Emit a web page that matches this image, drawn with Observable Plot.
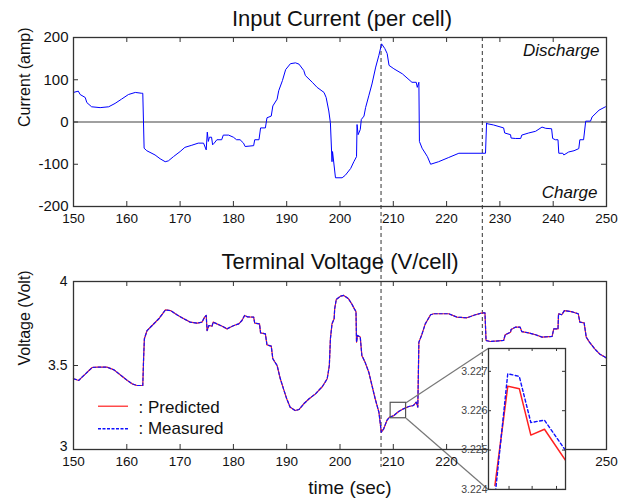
<!DOCTYPE html>
<html>
<head>
<meta charset="utf-8">
<script src="https://cdn.jsdelivr.net/npm/d3@7"></script>
<script src="https://cdn.jsdelivr.net/npm/@observablehq/plot@0.6"></script>
<style>
  html, body { margin: 0; padding: 0; background: #fff; }
  #fig { position: relative; width: 630px; height: 502px; background: #fff; overflow: hidden;
         font-family: "Liberation Sans", Arial, sans-serif; }
  #fig > svg, #fig > figure { position: absolute; margin: 0; }
</style>
</head>
<body>
<div id="fig"></div>
<script>
// ---------------- data ----------------
const currentTime = [150.0,150.9,151.25,152.2,152.5,153.4,155.0,156.6,157.8,159.0,160.3,161.6,162.8,163.0,163.25,163.75,165.3,166.25,167.2,167.8,168.75,170.0,170.9,172.2,173.4,174.4,174.9,175.1,175.3,175.5,175.9,176.1,176.4,176.9,177.8,178.1,179.1,180.0,180.6,181.25,181.9,182.2,183.8,184.0,184.8,185.1,186.0,186.3,187.1,187.4,188.2,188.5,189.2,189.8,190.7,191.65,192.3,193.2,193.5,194.8,195.7,197.0,197.4,197.9,198.2,198.5,198.6,199.15,200.4,201.0,202.0,202.6,203.1,203.2,203.4,203.8,204.0,204.5,204.8,205.4,206.0,206.7,207.3,207.8,208.4,208.85,209.2,210.1,211.7,213.5,214.3,214.5,214.8,214.9,215.4,216.4,217.0,218.5,220.4,222.3,224.2,227.3,227.5,227.6,228.8,230.7,230.9,232.0,232.1,232.9,233.9,234.1,235.4,236.7,237.9,238.6,239.7,239.9,240.4,240.9,241.05,241.8,242.0,242.9,243.9,244.8,245.0,245.7,246.1,247.0,247.3,248.6,249.8,250.0];
const currentAmp = [70,73,65,58,46,36,34,36,44,54,65,70,68,68,-62,-68,-78,-87,-94,-92,-82,-70,-60,-55,-50,-50,-66,-24,-46,-36,-36,-54,-50,-42,-42,-31,-31,-36,-42,-42,-50,-58,-56,-42,-42,-14,-14,10,14,38,54,74,98,124,138,140,137,122,110,94,82,70,58,26,-2,-94,-70,-132,-132,-126,-110,-94,-82,-6,-30,-18,6,14,34,62,90,130,158,185,174,162,134,126,114,94,94,82,94,-46,-62,-82,-100,-94,-84,-74,-74,-74,-2,-4,-7,-14,-26,-30,-38,-39,-39,-31,-26,-22,-12,-15,-16,-39,-42,-42,-74,-74,-78,-71,-68,-63,-42,-42,2,2,12,28,36,37];

const voltTime = [150.0,151.0,151.6,152.25,152.9,153.5,154.4,156.3,157.6,158.8,160.1,161.0,161.9,163.0,163.15,163.3,163.8,164.75,166.0,167.25,168.2,169.4,170.7,171.9,173.2,174.1,174.6,174.9,175.06,175.4,176.0,176.2,176.9,177.9,178.8,179.4,180.1,181.0,181.6,182.1,182.6,183.8,184.0,184.9,185.1,186.0,186.3,187.1,187.4,188.2,188.8,189.4,190.0,190.65,191.6,192.3,193.2,194.2,195.4,196.7,197.6,198.0,198.2,198.5,198.9,199.0,199.3,200.1,200.7,201.6,202.2,202.7,203.0,203.1,203.3,203.8,204.1,204.7,205.4,206.0,206.6,207.3,207.75,208.2,208.8,209.25,210.1,211.0,211.9,212.9,213.8,214.3,214.6,214.8,215.3,216.0,217.0,217.6,220.4,221.95,223.8,225.4,226.7,227.2,227.4,228.2,230.7,231.0,232.0,232.1,232.9,233.8,234.1,235.4,236.7,237.9,239.8,240.1,240.9,241.0,241.6,242.1,243.4,244.7,245.0,245.8,246.2,246.8,247.8,248.7,249.7,250.0];
const voltPredicted = [3.421,3.411,3.431,3.450,3.470,3.488,3.490,3.490,3.474,3.444,3.411,3.391,3.381,3.381,3.540,3.659,3.708,3.738,3.778,3.831,3.827,3.802,3.778,3.758,3.752,3.758,3.788,3.798,3.708,3.738,3.734,3.758,3.748,3.734,3.718,3.728,3.738,3.748,3.768,3.798,3.790,3.788,3.752,3.748,3.694,3.688,3.623,3.615,3.540,3.500,3.421,3.361,3.302,3.252,3.232,3.238,3.272,3.302,3.331,3.375,3.421,3.500,3.659,3.748,3.778,3.837,3.893,3.913,3.917,3.897,3.867,3.837,3.821,3.639,3.679,3.669,3.560,3.520,3.460,3.381,3.302,3.222,3.103,3.123,3.173,3.192,3.202,3.226,3.242,3.256,3.262,3.282,3.252,3.639,3.679,3.748,3.802,3.808,3.808,3.788,3.784,3.802,3.813,3.813,3.649,3.643,3.649,3.683,3.698,3.714,3.728,3.728,3.702,3.694,3.683,3.669,3.673,3.718,3.718,3.808,3.802,3.827,3.821,3.808,3.758,3.754,3.669,3.639,3.599,3.569,3.550,3.543];
// at full scale the measured trace is indistinguishable from the prediction
const voltMeasured = [3.421,3.411,3.431,3.450,3.470,3.488,3.490,3.490,3.474,3.444,3.411,3.391,3.381,3.381,3.540,3.659,3.708,3.738,3.778,3.831,3.827,3.802,3.778,3.758,3.752,3.758,3.788,3.798,3.708,3.738,3.734,3.758,3.748,3.734,3.718,3.728,3.738,3.748,3.768,3.798,3.790,3.788,3.752,3.748,3.694,3.688,3.623,3.615,3.540,3.500,3.421,3.361,3.302,3.252,3.232,3.238,3.272,3.302,3.331,3.375,3.421,3.500,3.659,3.748,3.778,3.837,3.893,3.913,3.917,3.897,3.867,3.837,3.821,3.639,3.679,3.669,3.560,3.520,3.460,3.381,3.302,3.222,3.103,3.123,3.173,3.192,3.202,3.226,3.242,3.256,3.262,3.282,3.252,3.639,3.679,3.748,3.802,3.808,3.808,3.788,3.784,3.802,3.813,3.813,3.649,3.643,3.649,3.683,3.698,3.714,3.728,3.728,3.702,3.694,3.683,3.669,3.673,3.718,3.718,3.808,3.802,3.827,3.821,3.808,3.758,3.754,3.669,3.639,3.599,3.569,3.550,3.543];

// zoomed detail (inset)
const insetTime = [211.05,211.15,211.24,211.33,211.436,211.6];
const insetPredicted = [3.2241,3.22662,3.22656,3.22538,3.22553,3.22474];
const insetMeasured = [3.2238,3.22694,3.22687,3.22570,3.22576,3.22499];

const eventTimes = [207.7, 226.7];
const xTicks = [150,160,170,180,190,200,210,220,230,240,250];
const currentTicks = [-200,-100,0,100,200];
const voltTicks = [3, 3.5, 4];
const insetYTicks = [3.224,3.225,3.226,3.227];
const insetXTicks = [211.16,211.34,211.53];
const zoomBox = {t0: 209.5, t1: 212.4, v0: 3.186, v1: 3.278};
const insetBox = {t0: 227.8, t1: 242.25, v0: 2.762, v1: 3.601};

const current = currentTime.map((t, i) => ({t, v: currentAmp[i]}));
const predicted = voltTime.map((t, i) => ({t, v: voltPredicted[i]}));
const measured = voltTime.map((t, i) => ({t, v: voltMeasured[i]}));
const insetP = insetTime.map((t, i) => ({t, v: insetPredicted[i]}));
const insetM = insetTime.map((t, i) => ({t, v: insetMeasured[i]}));

// ---------------- layout ----------------
const FONT = '"Liberation Sans", Arial, sans-serif';
const W = 630, ML = 73, MR = 24;
const fig = document.getElementById("fig");
const FRAME = "#333";
const TICK = 5;

function inwardTicks(xt, yt, fw, fh, len, stroke) {
  return [
    Plot.ruleX(xt, {insetTop: fh - len, stroke}),
    Plot.ruleX(xt, {insetBottom: fh - len, stroke}),
    Plot.ruleY(yt, {insetRight: fw - len, stroke}),
    Plot.ruleY(yt, {insetLeft: fw - len, stroke})
  ];
}
const fmt = d => String(d);

// ---- top panel: current ----
const H1 = 240, MT1 = 37, MB1 = 34;
const fh1 = H1 - MT1 - MB1, fw = W - ML - MR;
const topPlot = Plot.plot({
  width: W, height: H1, marginLeft: ML, marginRight: MR, marginTop: MT1, marginBottom: MB1,
  style: {fontFamily: FONT, fontSize: "14px", color: "#111", background: "transparent", overflow: "visible"},
  x: {domain: [150, 250], axis: null},
  y: {domain: [-200, 200], axis: null},
  marks: [
    Plot.ruleY([0], {stroke: "#808080", strokeWidth: 1.5}),
    Plot.ruleX(eventTimes, {stroke: "#333", strokeDasharray: "4,3", strokeWidth: 1, insetBottom: -MB1}),
    Plot.line(current, {x: "t", y: "v", stroke: "#0000ff", strokeWidth: 1}),
    ...inwardTicks(xTicks, currentTicks, fw, fh1, TICK, FRAME),
    Plot.frame({stroke: FRAME, strokeWidth: 1.3}),
    Plot.axisX(xTicks, {tickSize: 0, tickPadding: 7, tickFormat: fmt, fontSize: 13.5, label: null}),
    Plot.axisY(currentTicks, {tickSize: 0, tickPadding: 5, tickFormat: fmt, fontSize: 15, label: null}),
    Plot.text(["Input Current (per cell)"], {frameAnchor: "top", lineAnchor: "bottom", dy: -12, dx: 2, fontSize: 22}),
    Plot.text(["Current (amp)"], {frameAnchor: "left", rotate: -90, dx: -49, dy: 5, fontSize: 16}),
    Plot.text(["Discharge"], {frameAnchor: "top-right", textAnchor: "end", lineAnchor: "bottom", dx: -7, dy: 18, fontSize: 17, fontStyle: "italic"}),
    Plot.text(["Charge"], {frameAnchor: "bottom-right", textAnchor: "end", lineAnchor: "bottom", dx: -9, dy: -9, fontSize: 17, fontStyle: "italic"})
  ]
});
topPlot.style.left = "0px"; topPlot.style.top = "0px";
fig.appendChild(topPlot);

// ---- bottom panel: voltage ----
const Y2 = 240, H2 = 262, MT2 = 41, MB2 = 53;
const fh2 = H2 - MT2 - MB2;
const bottomPlot = Plot.plot({
  width: W, height: H2, marginLeft: ML, marginRight: MR, marginTop: MT2, marginBottom: MB2,
  style: {fontFamily: FONT, fontSize: "14px", color: "#111", background: "transparent", overflow: "visible"},
  x: {domain: [150, 250], axis: null},
  y: {domain: [3, 4], axis: null},
  marks: [
    Plot.ruleX([eventTimes[0]], {stroke: "#333", strokeDasharray: "4,3", strokeWidth: 1, insetTop: -MT2, insetBottom: -18}),
    Plot.ruleX([eventTimes[1]], {stroke: "#333", strokeDasharray: "4,3", strokeWidth: 1, insetTop: -MT2, insetBottom: -11}),
    Plot.line(predicted, {x: "t", y: "v", stroke: "#ff2020", strokeWidth: 1.2}),
    Plot.line(measured, {x: "t", y: "v", stroke: "#1010ff", strokeWidth: 1.2, strokeDasharray: "3,2"}),
    Plot.rect([zoomBox], {x1: "t0", x2: "t1", y1: "v0", y2: "v1", fill: "none", stroke: "#555", strokeWidth: 1.2}),
    Plot.link([zoomBox], {x1: "t1", y1: "v1", x2: () => insetBox.t0, y2: () => insetBox.v1, stroke: "#777", strokeWidth: 1.2}),
    Plot.link([zoomBox], {x1: "t1", y1: "v0", x2: () => insetBox.t0, y2: () => insetBox.v0, stroke: "#777", strokeWidth: 1.2}),
    ...inwardTicks(xTicks, voltTicks, fw, fh2, TICK, FRAME),
    Plot.frame({stroke: FRAME, strokeWidth: 1.3}),
    Plot.axisX(xTicks, {tickSize: 0, tickPadding: 7, tickFormat: fmt, fontSize: 13.5, label: null}),
    Plot.axisY(voltTicks.filter(d => d !== 3), {tickSize: 0, tickPadding: 6, tickFormat: fmt, fontSize: 14, label: null}),
    Plot.axisY(voltTicks.filter(d => d === 3), {tickSize: 0, tickPadding: 6, tickFormat: fmt, fontSize: 14, label: null, dy: -3}),
    Plot.text(["Terminal Voltage (V/cell)"], {frameAnchor: "top", lineAnchor: "bottom", dy: -13, fontSize: 22}),
    Plot.text(["Voltage (Volt)"], {frameAnchor: "left", rotate: -90, dx: -49, fontSize: 16}),
    Plot.text(["time (sec)"], {frameAnchor: "bottom", lineAnchor: "bottom", dy: 44, dx: 10, fontSize: 19}),
    // legend
    Plot.ruleY([3.2577], {x1: 154.69, x2: 160.32, stroke: "#ff2020", strokeWidth: 1.2}),
    Plot.ruleY([3.1232], {x1: 154.69, x2: 160.32, stroke: "#1010ff", strokeWidth: 1.5, strokeDasharray: "3,1.5"}),
    Plot.text([": Predicted"], {frameAnchor: "bottom-left", textAnchor: "start", lineAnchor: "bottom", dx: 65, dy: -37, fontSize: 17}),
    Plot.text([": Measured"], {frameAnchor: "bottom-left", textAnchor: "start", lineAnchor: "bottom", dx: 65, dy: -16, fontSize: 17})
  ]
});
bottomPlot.style.left = "0px"; bottomPlot.style.top = Y2 + "px";
fig.appendChild(bottomPlot);

// ---- inset (placed with the bottom panel's own scales) ----
const xs = bottomPlot.scale("x"), ys = bottomPlot.scale("y");
const fl = xs.apply(insetBox.t0), fr = xs.apply(insetBox.t1);
const ft = ys.apply(insetBox.v1), fb = ys.apply(insetBox.v0);
const IML = 36, IMR = 3, IMT = 3, IMB = 3;
const ifw = fr - fl, ifh = fb - ft;
const insetPlot = Plot.plot({
  width: ifw + IML + IMR, height: ifh + IMT + IMB,
  marginLeft: IML, marginRight: IMR, marginTop: IMT, marginBottom: IMB,
  style: {fontFamily: FONT, fontSize: "10px", color: "#444", background: "transparent", overflow: "visible"},
  x: {domain: [211.0, 211.6], axis: null},
  y: {domain: [3.224, 3.22758], axis: null},
  marks: [
    Plot.frame({fill: "white"}),
    Plot.line(insetP, {x: "t", y: "v", stroke: "#ff2020", strokeWidth: 1.5, clip: true}),
    Plot.line(insetM, {x: "t", y: "v", stroke: "#1010ff", strokeWidth: 1.4, strokeDasharray: "3,2.5", clip: true}),
    ...inwardTicks(insetXTicks, insetYTicks, ifw, ifh, 3, FRAME),
    Plot.frame({stroke: FRAME, strokeWidth: 1.3}),
    Plot.axisY(insetYTicks, {tickSize: 0, tickPadding: 1, tickFormat: d3.format(".3f"), fontSize: 10.5, fill: "#444", label: null})
  ]
});
insetPlot.style.left = (fl - IML) + "px";
insetPlot.style.top = (Y2 + ft - IMT) + "px";
fig.appendChild(insetPlot);
</script>
</body>
</html>
